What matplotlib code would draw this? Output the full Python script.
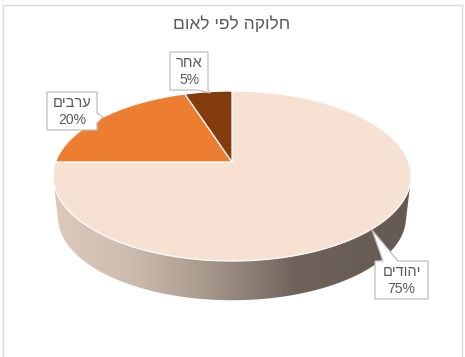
import matplotlib
matplotlib.use("Agg")
import matplotlib.pyplot as plt
import numpy as np
from matplotlib.colors import LinearSegmentedColormap
from matplotlib.patches import Polygon, Rectangle

plt.rcParams["font.family"] = ["Liberation Sans", "DejaVu Sans"]

TITLE = "חלוקה לפי לאום"
names = ["יהודים", "ערבים", "אחר"]
values = [75, 20, 5]
colors = ["#F6E1D3", "#ED7D31", "#843C0C"]

TEXT = "#595959"
BORDER = "#D9D9D9"
BOX = "#BFBFBF"

# perspective of the disc, everything in pixels of the picture
CX = 232
TOP_Y = 162
BOTTOM_Y = 204
A = 176.5
B = 82.7
K = 0.1648
BOTTOM_SCALE = 0.972


def project(theta, r=1.0, y0=TOP_Y, scale=1.0):
    # theta is clockwise from 12 o'clock, like the slices
    u = r * np.sin(theta)
    v = r * np.cos(theta)
    w = 1 + K * v
    return CX + scale * A * u / w, y0 - scale * B * v / w


def convex_hull(pts):
    pts = sorted(set(map(tuple, pts)))

    def half(points):
        out = []
        for p in points:
            while len(out) > 1 and (out[-1][0] - out[-2][0]) * (p[1] - out[-2][1]) - (
                out[-1][1] - out[-2][1]
            ) * (p[0] - out[-2][0]) <= 0:
                out.pop()
            out.append(p)
        return out[:-1]

    return half(pts) + half(pts[::-1])


def hebrew(s):
    # matplotlib has no bidi, so the letters go in visual order
    return s[::-1]


fig = plt.figure(figsize=(4.65, 3.57), dpi=100)
ax = fig.add_axes([0, 0, 1, 1])
ax.set_xlim(0, 465)
ax.set_ylim(357, 0)
ax.axis("off")

# chart frame
ax.add_patch(Rectangle((2.5, 4.5), 459.5, 360, fc="white", ec=BORDER, lw=1.0))

# side wall with its gradient
t = np.linspace(0, 2 * np.pi, 361)
xt, yt = project(t)
xb, yb = project(t, y0=BOTTOM_Y, scale=BOTTOM_SCALE)
hull = convex_hull(np.column_stack([np.r_[xt, xb], np.r_[yt, yb]]))
wall = Polygon(hull, closed=True, fc="none", ec="none", transform=ax.transData)
ax.add_patch(wall)
cmap = LinearSegmentedColormap.from_list(
    "wall",
    [(0, "#DCCABD"), (0.22, "#CDBBAE"), (0.42, "#A99A8E"), (0.68, "#6E625A"), (1, "#655A52")],
)
img = ax.imshow(
    np.linspace(0, 1, 256)[None, :],
    cmap=cmap,
    extent=(53, 411, 310, 150),
    aspect="auto",
    zorder=1,
)
img.set_clip_path(wall)
ax.set_xlim(0, 465)
ax.set_ylim(357, 0)

# slices, clockwise from the top
edges = np.r_[0, np.cumsum(values)] / np.sum(values) * 2 * np.pi
for i, value in enumerate(values):
    a = np.linspace(edges[i], edges[i + 1], 200)
    x, y = project(a)
    ax.fill(
        np.r_[CX, x],
        np.r_[TOP_Y, y],
        facecolor=colors[i],
        edgecolor="white",
        linewidth=0.9,
        zorder=2,
    )

ax.text(232, 24, hebrew(TITLE), color=TEXT, fontsize=12.5, ha="center", va="center")

# callouts: box (x0, y0, x1, y1) and outline with the pointer
boxes = [(375, 261, 428, 299), (47, 92, 97, 130), (170, 52, 208, 90)]
pointers = [
    [(375, 261), (383, 261), (372, 230), (398, 261), (428, 261), (428, 299), (375, 299)],
    [(47, 92), (97, 92), (97, 113), (103, 117), (97, 123), (97, 130), (47, 130)],
    [(170, 52), (208, 52), (208, 90), (210, 93), (198, 90), (170, 90)],
]
for i, value in enumerate(values):
    x0, y0, x1, y1 = boxes[i]
    ax.add_patch(
        Polygon(pointers[i], closed=True, fc="white", ec=BOX, lw=0.9, zorder=3)
    )
    mx = (x0 + x1) / 2
    ax.text(mx, y0 + 11, hebrew(names[i]), color=TEXT, fontsize=10.5, ha="center", va="center", zorder=4)
    ax.text(mx, y0 + 28, f"{value}%", color=TEXT, fontsize=10, ha="center", va="center", zorder=4)

fig.savefig("out.png", dpi=100)
